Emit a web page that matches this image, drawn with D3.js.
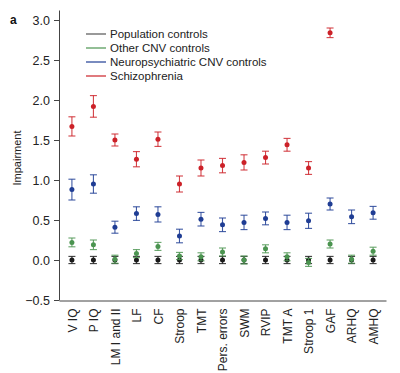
<!DOCTYPE html>
<html>
<head>
<meta charset="utf-8">
<script src="https://cdn.jsdelivr.net/npm/d3@7"></script>
<style>
  body { margin: 0; background: #fff; }
  svg { font-family: "Liberation Sans", Arial, sans-serif; }
</style>
</head>
<body>
<svg id="viz" width="400" height="373"></svg>
<script>
/* Data */

const categories = ['V IQ', 'P IQ', 'LM I and II', 'LF', 'CF', 'Stroop', 'TMT', 'Pers. errors',
  'SWM', 'RVIP', 'TMT A', 'Stroop 1', 'GAF', 'ARHQ', 'AMHQ'];

const seriesNames = ['Population controls', 'Other CNV controls', 'Neuropsychiatric CNV controls', 'Schizophrenia'];

const populationMean = [0, 0, 0, 0, 0, 0, 0, 0, 0, 0, 0, 0, 0, 0, 0];
const populationErr = [0.045, 0.045, 0.045, 0.045, 0.045, 0.045, 0.045, 0.045, 0.045, 0.045, 0.045, 0.045, 0.045, 0.045, 0.045];

const otherMean = [0.22, 0.19, 0.01, 0.08, 0.17, 0.05, 0.04, 0.10, 0.0, 0.14, 0.04, -0.03, 0.20, 0.01, 0.11];
const otherErr = [0.055, 0.06, 0.05, 0.05, 0.05, 0.045, 0.05, 0.05, 0.05, 0.05, 0.05, 0.05, 0.05, 0.05, 0.05];

const neuroMean = [0.88, 0.95, 0.41, 0.58, 0.57, 0.30, 0.51, 0.44, 0.47, 0.52, 0.47, 0.49, 0.70, 0.54, 0.59];
const neuroErr = [0.13, 0.115, 0.075, 0.085, 0.095, 0.085, 0.085, 0.085, 0.09, 0.08, 0.09, 0.095, 0.075, 0.085, 0.08];

const schizoMean = [1.67, 1.92, 1.50, 1.26, 1.51, 0.95, 1.15, 1.18, 1.22, 1.28, 1.44, 1.15, 2.84, null, null];
const schizoErr = [0.12, 0.135, 0.075, 0.095, 0.09, 0.10, 0.10, 0.09, 0.095, 0.08, 0.08, 0.08, 0.06, null, null];

const yTicks = [-0.5, 0, 0.5, 1.0, 1.5, 2.0, 2.5, 3.0];

const colors = ['#1a1a1a', '#4b9450', '#1f3d94', '#cc2128'];
const legendColors = ['#555555', '#4b9450', '#1f3d94', '#cc2128'];

const series = [
  { mean: populationMean, err: populationErr },
  { mean: otherMean, err: otherErr },
  { mean: neuroMean, err: neuroErr },
  { mean: schizoMean, err: schizoErr },
];

/* Visualization */

const svg = d3.select('#viz');

const xScale = d3.scalePoint().domain(categories).range([59, 386]).padding(0.6);
const yScale = d3.scaleLinear().domain([-0.5, 3.125]).range([300, 10]);

// y axis
const yAxis = svg.append('g')
  .attr('transform', 'translate(59,0)')
  .call(d3.axisLeft(yScale).tickValues(yTicks).tickFormat(d3.format('.1f')).tickSize(5).tickSizeOuter(0).tickPadding(4));
yAxis.selectAll('text').attr('font-size', 12.5).attr('fill', '#222').style('font-family', 'Liberation Sans, Arial, sans-serif');
yAxis.selectAll('line').attr('stroke', '#444');
yAxis.select('.domain').attr('stroke', '#444');

// x axis
const xAxis = svg.append('g')
  .attr('transform', 'translate(0,300.5)')
  .call(d3.axisBottom(xScale).tickSize(0).tickPadding(8).tickSizeOuter(0));
xAxis.select('.domain').attr('stroke', '#444');
xAxis.selectAll('text')
  .attr('font-size', 12)
  .attr('fill', '#222')
  .style('font-family', 'Liberation Sans, Arial, sans-serif')
  .attr('transform', 'rotate(-90)')
  .attr('text-anchor', 'end')
  .attr('dy', '0.35em')
  .attr('x', -8)
  .attr('y', 0);

// axis title
svg.append('text')
  .attr('transform', 'translate(21,158) rotate(-90)')
  .attr('text-anchor', 'middle')
  .attr('font-size', 11)
  .attr('fill', '#222')
  .text('Impairment');

// panel letter
svg.append('text')
  .attr('x', 10)
  .attr('y', 24)
  .attr('font-size', 12)
  .attr('font-weight', 'bold')
  .attr('fill', '#111')
  .text('a');

// error bars and points
const cap = 3.5;
series.forEach((s, si) => {
  const g = svg.append('g');
  const rows = categories
    .map((c, i) => ({ c: c, m: s.mean[i], e: s.err[i] }))
    .filter(d => d.m !== null);

  const bars = g.selectAll('g').data(rows).join('g')
    .attr('stroke', colors[si])
    .attr('stroke-width', 1.1)
    .attr('stroke-opacity', 0.85);

  bars.append('line')
    .attr('x1', d => xScale(d.c)).attr('x2', d => xScale(d.c))
    .attr('y1', d => yScale(d.m - d.e)).attr('y2', d => yScale(d.m + d.e));
  bars.append('line')
    .attr('x1', d => xScale(d.c) - cap).attr('x2', d => xScale(d.c) + cap)
    .attr('y1', d => yScale(d.m + d.e)).attr('y2', d => yScale(d.m + d.e));
  bars.append('line')
    .attr('x1', d => xScale(d.c) - cap).attr('x2', d => xScale(d.c) + cap)
    .attr('y1', d => yScale(d.m - d.e)).attr('y2', d => yScale(d.m - d.e));

  g.selectAll('circle').data(rows).join('circle')
    .attr('cx', d => xScale(d.c))
    .attr('cy', d => yScale(d.m))
    .attr('r', 2.5)
    .attr('fill', colors[si]);
});

// legend
const legend = svg.append('g').attr('transform', 'translate(86,34)');
const items = legend.selectAll('g').data(seriesNames).join('g')
  .attr('transform', (_, i) => 'translate(0,' + i * 14 + ')');
items.append('line')
  .attr('x1', 0).attr('x2', 20)
  .attr('stroke', (_, i) => legendColors[i])
  .attr('stroke-width', 1.2);
items.append('text')
  .attr('x', 24)
  .attr('dy', '0.35em')
  .attr('font-size', 11.5)
  .attr('fill', '#222')
  .text(d => d);
</script>
</body>
</html>
